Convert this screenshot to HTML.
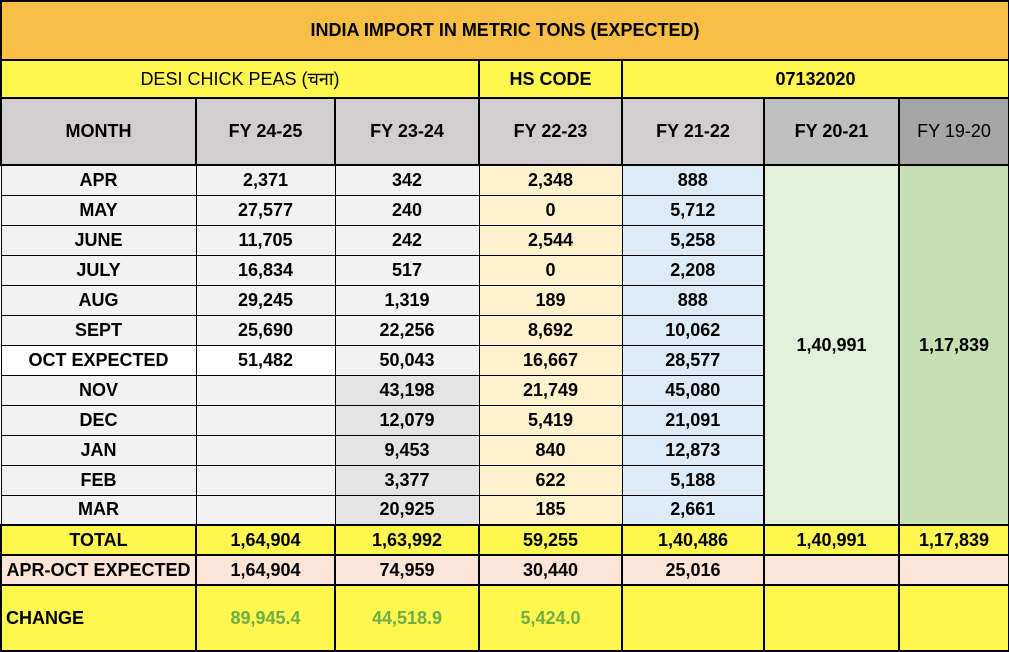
<!DOCTYPE html>
<html><head><meta charset="utf-8"><style>
body{margin:0;background:#fff;}
table{border-collapse:collapse;table-layout:fixed;position:absolute;left:0;top:0;width:1008px;font-family:"Liberation Sans","Noto Sans CJK SC",sans-serif;font-size:18px;font-weight:bold;color:#000;}
td{border:1px solid #000;text-align:center;padding:0;overflow:hidden;white-space:nowrap;}
.t td{border-width:2px;}
.m{background:#F2F2F2}
.a{background:#F2F2F2}
.b{background:#E4E4E4}
.c{background:#FFF2CC}
.d{background:#DDEBF7}
.y{background:#FEF74F}
.p{background:#FCE4D6}
.g{color:#70AD47}
</style></head><body>
<table>
<colgroup><col style="width:195px"><col style="width:139px"><col style="width:144px"><col style="width:143px"><col style="width:142px"><col style="width:135px"><col style="width:110px"></colgroup>
<tr class="t" style="height:59px"><td colspan="7" style="background:#F8BE45">INDIA IMPORT IN METRIC TONS (EXPECTED)</td></tr>
<tr class="t" style="height:38px"><td colspan="3" class="y" style="font-weight:normal">DESI CHICK PEAS (चना)</td><td class="y">HS CODE</td><td colspan="3" class="y">07132020</td></tr>
<tr class="t" style="height:67px"><td style="background:#D0CECE">MONTH</td><td style="background:#D0CECE">FY 24-25</td><td style="background:#D0CECE">FY 23-24</td><td style="background:#D0CECE">FY 22-23</td><td style="background:#D0CECE">FY 21-22</td><td style="background:#BFBFBF">FY 20-21</td><td style="background:#A5A5A5;font-weight:normal">FY 19-20</td></tr>
<tr style="height:30px"><td class="m">APR</td><td class="a">2,371</td><td class="a">342</td><td class="c">2,348</td><td class="d">888</td><td rowspan="12" style="background:#E2EFDA;border-width:2px">1,40,991</td><td rowspan="12" style="background:#C6E0B4;border-width:2px">1,17,839</td></tr>
<tr style="height:30px"><td class="m">MAY</td><td class="a">27,577</td><td class="a">240</td><td class="c">0</td><td class="d">5,712</td></tr>
<tr style="height:30px"><td class="m">JUNE</td><td class="a">11,705</td><td class="a">242</td><td class="c">2,544</td><td class="d">5,258</td></tr>
<tr style="height:30px"><td class="m">JULY</td><td class="a">16,834</td><td class="a">517</td><td class="c">0</td><td class="d">2,208</td></tr>
<tr style="height:30px"><td class="m">AUG</td><td class="a">29,245</td><td class="a">1,319</td><td class="c">189</td><td class="d">888</td></tr>
<tr style="height:30px"><td class="m">SEPT</td><td class="a">25,690</td><td class="a">22,256</td><td class="c">8,692</td><td class="d">10,062</td></tr>
<tr style="height:30px"><td style="background:#fff">OCT EXPECTED</td><td style="background:#fff">51,482</td><td class="a">50,043</td><td class="c">16,667</td><td class="d">28,577</td></tr>
<tr style="height:30px"><td class="m">NOV</td><td class="a"></td><td class="b">43,198</td><td class="c">21,749</td><td class="d">45,080</td></tr>
<tr style="height:30px"><td class="m">DEC</td><td class="a"></td><td class="b">12,079</td><td class="c">5,419</td><td class="d">21,091</td></tr>
<tr style="height:30px"><td class="m">JAN</td><td class="a"></td><td class="b">9,453</td><td class="c">840</td><td class="d">12,873</td></tr>
<tr style="height:30px"><td class="m">FEB</td><td class="a"></td><td class="b">3,377</td><td class="c">622</td><td class="d">5,188</td></tr>
<tr style="height:30px"><td class="m">MAR</td><td class="a"></td><td class="b">20,925</td><td class="c">185</td><td class="d">2,661</td></tr>
<tr class="t" style="height:30px"><td class="y">TOTAL</td><td class="y">1,64,904</td><td class="y">1,63,992</td><td class="y">59,255</td><td class="y">1,40,486</td><td class="y">1,40,991</td><td class="y">1,17,839</td></tr>
<tr class="t" style="height:30px"><td class="p">APR-OCT EXPECTED</td><td class="p">1,64,904</td><td class="p">74,959</td><td class="p">30,440</td><td class="p">25,016</td><td class="p"></td><td class="p"></td></tr>
<tr class="t" style="height:66px"><td class="y" style="text-align:left;padding-left:4px">CHANGE</td><td class="y g">89,945.4</td><td class="y g">44,518.9</td><td class="y g">5,424.0</td><td class="y"></td><td class="y"></td><td class="y"></td></tr>
</table>
</body></html>
